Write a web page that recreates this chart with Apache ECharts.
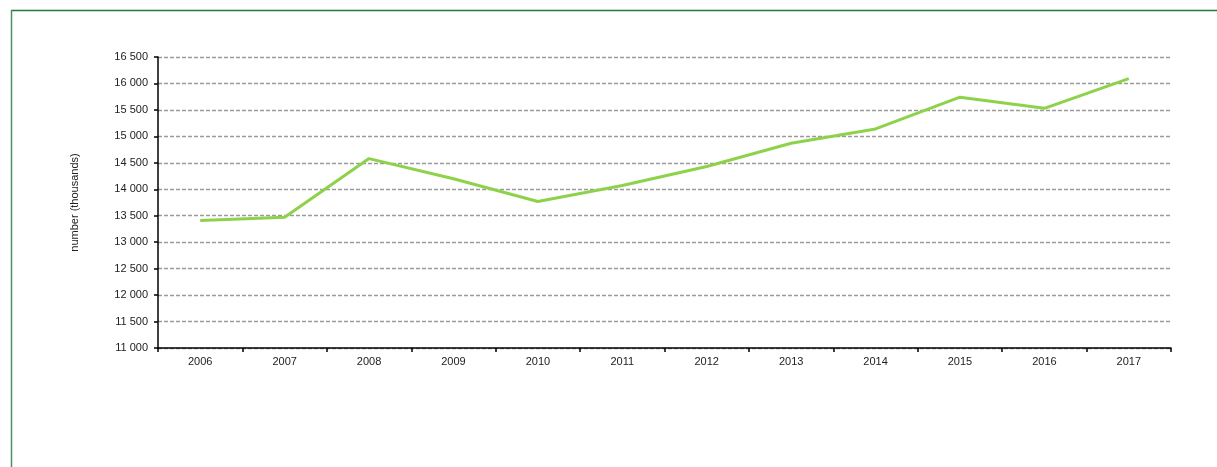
<!DOCTYPE html>
<html>
<head>
<meta charset="utf-8">
<script src="https://cdn.jsdelivr.net/npm/echarts@6/dist/echarts.min.js"></script>
<style>
  html, body { margin: 0; padding: 0; background: #fff; }
  #chart { width: 1217px; height: 467px; }
</style>
</head>
<body>
<div id="chart"></div>
<script>
// Years on the category axis
const years = ['2006', '2007', '2008', '2009', '2010', '2011', '2012', '2013', '2014', '2015', '2016', '2017'];
// Number in thousands per year
const values = [13410, 13470, 14580, 14200, 13770, 14070, 14430, 14870, 15140, 15740, 15530, 16090];
// Value axis range
const yMin = 11000;
const yMax = 16500;
const yStep = 500;
const yName = 'number (thousands)';

const fmt = v => {
  const s = String(Math.round(v));
  return s.length > 3 ? s.slice(0, s.length - 3) + ' ' + s.slice(-3) : s;
};

const chart = echarts.init(document.getElementById('chart'), null, { renderer: 'canvas' });
const font = '"Liberation Sans", Arial, sans-serif';

chart.setOption({
  animation: false,
  backgroundColor: '#ffffff',
  grid: { left: 158, top: 57, right: 46, bottom: 119, containLabel: false },
  graphic: [
    { type: 'line', shape: { x1: 11, y1: 10.5, x2: 1217, y2: 10.5 }, style: { stroke: '#237a40', lineWidth: 1.5 } },
    { type: 'line', shape: { x1: 11.5, y1: 10, x2: 11.5, y2: 467 }, style: { stroke: '#4a9068', lineWidth: 1.5 } }
  ],
  xAxis: {
    type: 'category',
    data: years,
    boundaryGap: true,
    axisLine: { show: true, lineStyle: { color: '#000', width: 1.5 } },
    axisTick: { show: true, alignWithLabel: false, length: 4, lineStyle: { color: '#000', width: 1.5 } },
    axisLabel: { color: '#222', fontFamily: font, fontSize: 11, margin: 8 },
    splitLine: { show: false }
  },
  yAxis: {
    type: 'value',
    min: yMin,
    max: yMax,
    interval: yStep,
    name: yName,
    nameLocation: 'middle',
    nameGap: 78,
    nameRotate: 90,
    nameTextStyle: { color: '#222', fontFamily: font, fontSize: 11 },
    axisLine: { show: true, lineStyle: { color: '#000', width: 1.5 } },
    axisTick: { show: true, inside: false, length: 4, lineStyle: { color: '#000', width: 1.5 } },
    axisLabel: { color: '#222', fontFamily: font, fontSize: 11, margin: 10, formatter: fmt },
    splitLine: { show: true, lineStyle: { color: '#9a9a9a', width: 1.4, type: [4, 2] } }
  },
  series: [{
    type: 'line',
    data: values,
    symbol: 'none',
    smooth: false,
    lineStyle: { color: '#8dd24a', width: 3 },
    z: 5
  }]
});
</script>
</body>
</html>
